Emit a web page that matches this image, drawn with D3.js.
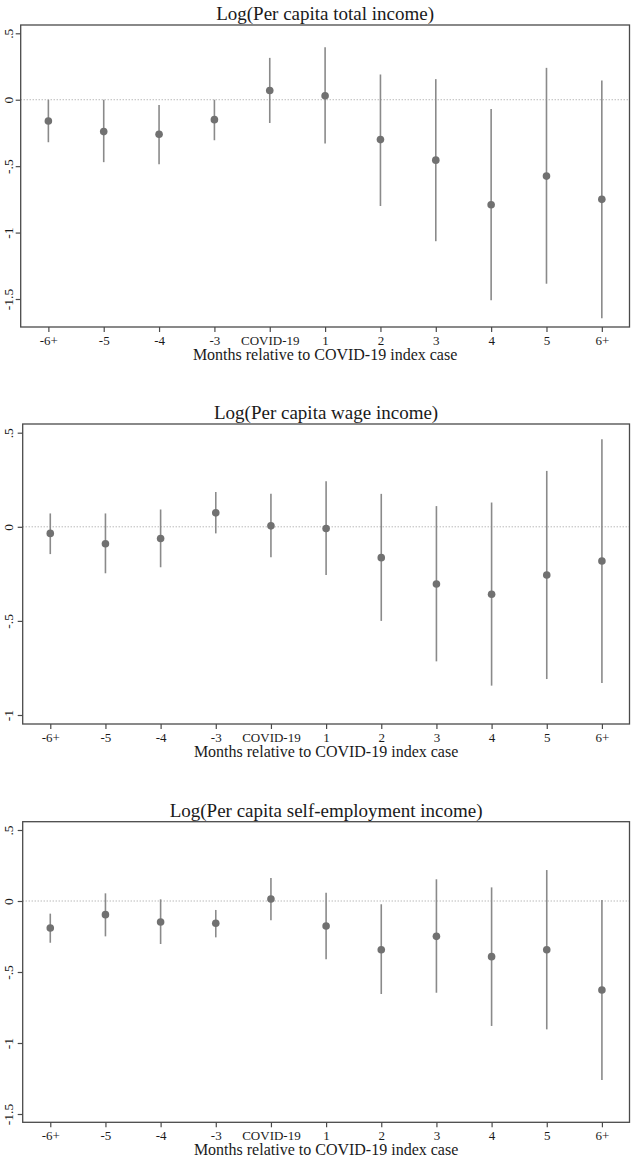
<!DOCTYPE html>
<html>
<head>
<meta charset="utf-8">
<script src="https://cdn.jsdelivr.net/npm/d3@7"></script>
<style>
  body { margin: 0; background: #fff; }
  svg { display: block; font-family: "Liberation Serif", "Times New Roman", serif; }
</style>
</head>
<body>
<script>
'use strict';

// categories (months relative to index case)
const months = ["-6+", "-5", "-4", "-3", "COVID-19", "1", "2", "3", "4", "5", "6+"];

const titles = [
    "Log(Per capita total income)",
    "Log(Per capita wage income)",
    "Log(Per capita self-employment income)"
];

// total income
const totalEst = [-0.16, -0.24, -0.26, -0.15, 0.07, 0.03, -0.30, -0.455, -0.79, -0.575, -0.75];
const totalLo  = [-0.32, -0.47, -0.485, -0.305, -0.175, -0.33, -0.80, -1.065, -1.51, -1.385, -1.645];
const totalHi  = [0.0, 0.0, -0.04, 0.0, 0.315, 0.395, 0.19, 0.155, -0.07, 0.24, 0.145];

// wage income
const wageEst = [-0.035, -0.09, -0.062, 0.074, 0.005, -0.009, -0.164, -0.304, -0.358, -0.256, -0.182];
const wageLo  = [-0.145, -0.247, -0.215, -0.035, -0.162, -0.256, -0.50, -0.715, -0.844, -0.809, -0.83];
const wageHi  = [0.071, 0.071, 0.092, 0.185, 0.175, 0.242, 0.175, 0.11, 0.129, 0.297, 0.465];

// self-employment income
const selfEst = [-0.19, -0.096, -0.148, -0.157, 0.014, -0.176, -0.343, -0.249, -0.392, -0.343, -0.627];
const selfLo  = [-0.294, -0.249, -0.303, -0.256, -0.136, -0.411, -0.655, -0.646, -0.88, -0.904, -1.261];
const selfHi  = [-0.089, 0.054, 0.012, -0.063, 0.162, 0.058, -0.023, 0.153, 0.096, 0.218, 0.007];

// y ticks per panel
const totalTicks = [0.5, 0, -0.5, -1, -1.5];
const wageTicks  = [0.5, 0, -0.5, -1];
const selfTicks  = [0.5, 0, -0.5, -1, -1.5];

const xTitle = "Months relative to COVID-19 index case";

(function () {
    const W = 634, H = 1159;
    const svg = d3.select("body").append("svg")
        .attr("width", W)
        .attr("height", H);

    // panel layout: frame box and pixel range of the y ticks
    const panels = [
        { est: totalEst, lo: totalLo, hi: totalHi, ticks: totalTicks, title: titles[0],
          left: 20.7, top: 25, bottom: 327, yTop: 33.3, yBot: 299, yDom: [-1.5, 0.5] },
        { est: wageEst, lo: wageLo, hi: wageHi, ticks: wageTicks, title: titles[1],
          left: 22.7, top: 424, bottom: 724, yTop: 432.7, yBot: 715, yDom: [-1, 0.5] },
        { est: selfEst, lo: selfLo, hi: selfHi, ticks: selfTicks, title: titles[2],
          left: 22.7, top: 821.7, bottom: 1122.3, yTop: 830, yBot: 1114, yDom: [-1.5, 0.5] }
    ];
    const right = 629.5;
    const serif = "Liberation Serif, Times New Roman, serif";

    const fmt = d => d === 0 ? "0" : String(d).replace("0.", ".");

    panels.forEach(p => {
        const g = svg.append("g");

        const x = d3.scalePoint()
            .domain(months)
            .range([p.left, right])
            .padding(0.5);
        const y = d3.scaleLinear()
            .domain(p.yDom)
            .range([p.yBot, p.yTop]);

        // title
        g.append("text")
            .attr("x", (p.left + right) / 2)
            .attr("y", p.top - 5)
            .attr("text-anchor", "middle")
            .attr("font-size", 19)
            .attr("fill", "#1a1a1a")
            .text(p.title);

        // zero reference line
        g.append("line")
            .attr("x1", p.left).attr("x2", right)
            .attr("y1", y(0)).attr("y2", y(0))
            .attr("stroke", "#9a9a9a")
            .attr("stroke-width", 1)
            .attr("stroke-dasharray", "1,2");

        // confidence intervals
        g.append("g")
            .selectAll("line")
            .data(months)
            .enter()
            .append("line")
            .attr("x1", d => x(d)).attr("x2", d => x(d))
            .attr("y1", (d, i) => y(p.hi[i]))
            .attr("y2", (d, i) => y(p.lo[i]))
            .attr("stroke", "#8a8a8a")
            .attr("stroke-width", 1.6);

        // point estimates
        g.append("g")
            .selectAll("circle")
            .data(months)
            .enter()
            .append("circle")
            .attr("cx", d => x(d))
            .attr("cy", (d, i) => y(p.est[i]))
            .attr("r", 3.8)
            .attr("fill", "#717171");

        // frame
        g.append("rect")
            .attr("x", p.left).attr("y", p.top)
            .attr("width", right - p.left)
            .attr("height", p.bottom - p.top)
            .attr("fill", "none")
            .attr("stroke", "#4a4a4a")
            .attr("stroke-width", 1.3);

        // y axis
        const ya = g.append("g")
            .attr("transform", `translate(${p.left},0)`)
            .call(d3.axisLeft(y).tickValues(p.ticks).tickFormat(fmt).tickSize(5).tickSizeOuter(0));
        ya.select(".domain").remove();
        ya.selectAll(".tick line").attr("stroke", "#4a4a4a").attr("stroke-width", 1.2);
        ya.selectAll(".tick text")
            .attr("x", null).attr("dy", null)
            .attr("transform", `translate(${13 - p.left},0) rotate(-90)`)
            .attr("text-anchor", "middle")
            .attr("font-size", 13.5)
            .attr("font-family", serif)
            .attr("fill", "#1a1a1a");

        // x axis
        const xa = g.append("g")
            .attr("transform", `translate(0,${p.bottom})`)
            .call(d3.axisBottom(x).tickSize(5).tickSizeOuter(0));
        xa.select(".domain").remove();
        xa.selectAll(".tick line").attr("stroke", "#4a4a4a").attr("stroke-width", 1.2);
        xa.selectAll(".tick text")
            .attr("y", 17.5).attr("dy", null)
            .attr("font-size", 13)
            .attr("font-family", serif)
            .attr("fill", "#1a1a1a");

        // x title
        g.append("text")
            .attr("x", (p.left + right) / 2)
            .attr("y", p.bottom + 33)
            .attr("text-anchor", "middle")
            .attr("font-size", 16)
            .attr("fill", "#1a1a1a")
            .text(xTitle);
    });
})();
</script>
</body>
</html>
